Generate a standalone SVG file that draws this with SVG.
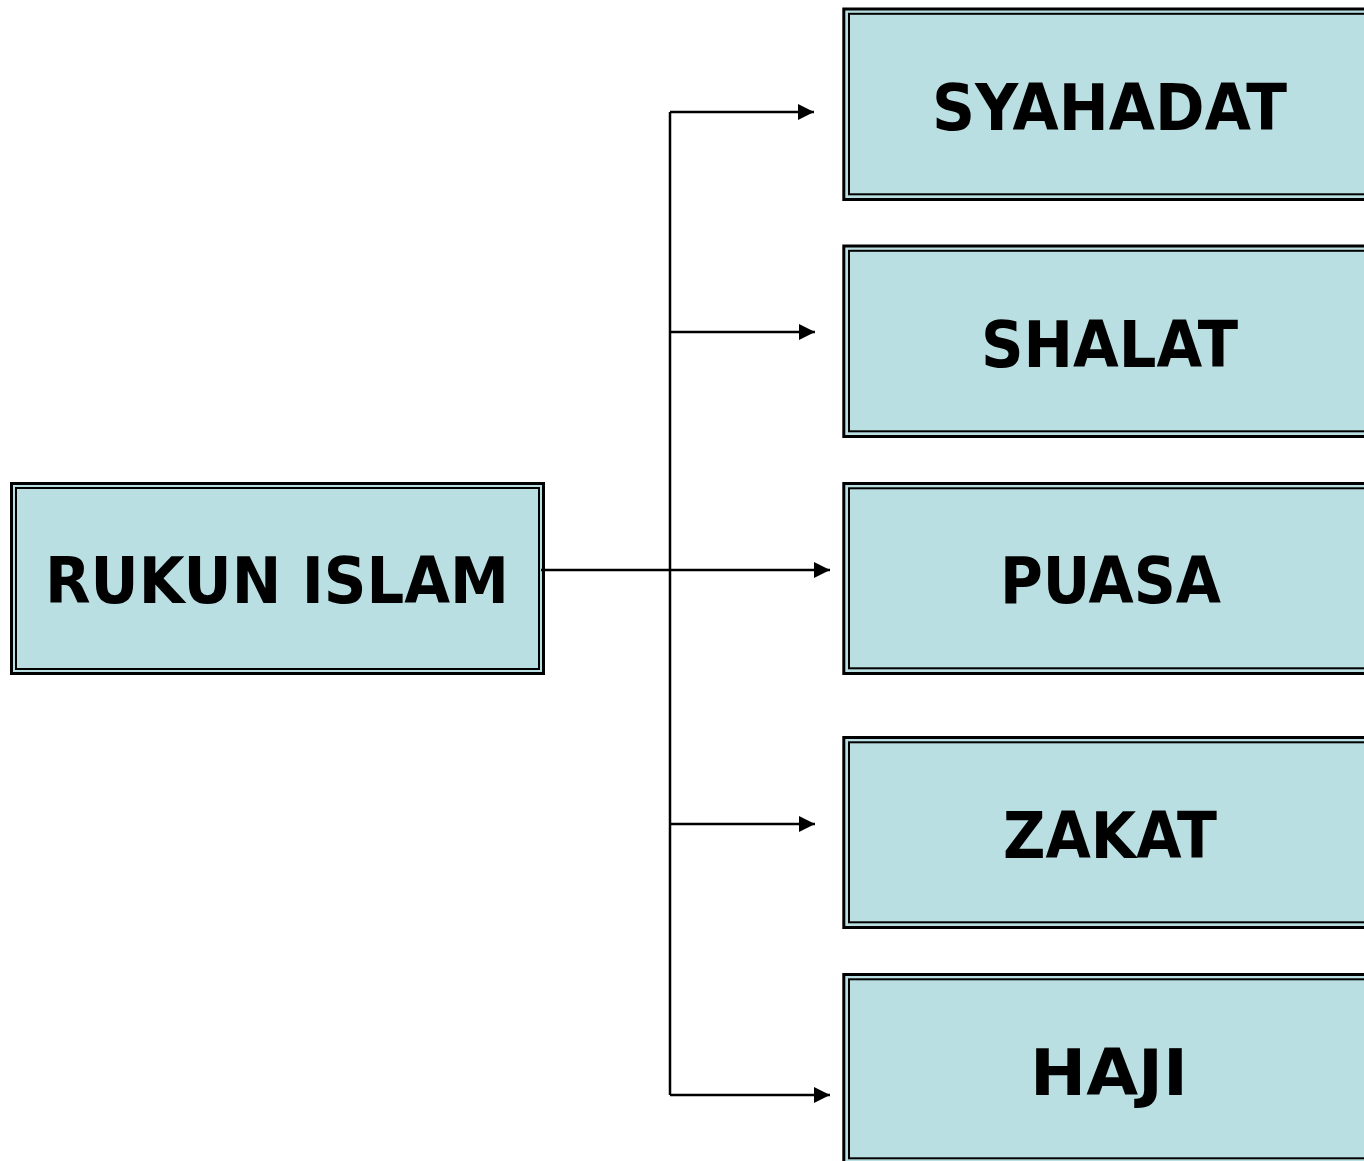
<svg xmlns="http://www.w3.org/2000/svg" width="1364" height="1161" viewBox="0 0 1364 1161">
<style>
.outer{fill:#B9DFE2;stroke:#000;stroke-width:3}
.inner{fill:none;stroke:#000;stroke-width:2}
.lbl{font-family:"DejaVu Sans","Liberation Sans",sans-serif;font-weight:bold;font-size:64px;fill:#000}
.conn{fill:none;stroke:#000;stroke-width:2.5}
</style>
<defs>
<marker id="ah" markerUnits="userSpaceOnUse" markerWidth="17" markerHeight="17" refX="16" refY="8" orient="auto">
<path d="M0,0 L16,8 L0,16 Z" fill="#000"/>
</marker>
</defs>
<rect width="1364" height="1161" fill="#fff"/>
<g id="rukun-islam">
<rect class="outer" x="11.5" y="483.5" width="532" height="190"/>
<rect class="inner" x="16" y="488" width="523" height="181"/>
<text class="lbl" x="45" y="603" textLength="464" lengthAdjust="spacingAndGlyphs">RUKUN ISLAM</text>
</g>
<g id="syahadat">
<rect class="outer" x="843.8" y="9" width="540" height="190.5"/>
<rect class="inner" x="849" y="13.8" width="530" height="180.5"/>
<text class="lbl" x="932" y="130" textLength="355" lengthAdjust="spacingAndGlyphs">SYAHADAT</text>
</g>
<g id="shalat">
<rect class="outer" x="843.8" y="246" width="540" height="190.5"/>
<rect class="inner" x="849" y="250.8" width="530" height="180.5"/>
<text class="lbl" x="981" y="367" textLength="257" lengthAdjust="spacingAndGlyphs">SHALAT</text>
</g>
<g id="puasa">
<rect class="outer" x="843.8" y="483.5" width="540" height="190"/>
<rect class="inner" x="849" y="488.3" width="530" height="180"/>
<text class="lbl" x="1000" y="603" textLength="221" lengthAdjust="spacingAndGlyphs">PUASA</text>
</g>
<g id="zakat">
<rect class="outer" x="843.8" y="737.5" width="540" height="190"/>
<rect class="inner" x="849" y="742.3" width="530" height="180"/>
<text class="lbl" x="1003" y="858" textLength="214" lengthAdjust="spacingAndGlyphs">ZAKAT</text>
</g>
<g id="haji">
<rect class="outer" x="843.8" y="974.5" width="540" height="190"/>
<rect class="inner" x="849" y="979.3" width="530" height="179"/>
<text class="lbl" x="1030" y="1095" textLength="158" lengthAdjust="spacingAndGlyphs">HAJI</text>
</g>
<g id="connectors">
<line class="conn" x1="670" y1="112" x2="670" y2="1095"/>
<line class="conn" x1="670" y1="112" x2="814" y2="112" marker-end="url(#ah)"/>
<line class="conn" x1="670" y1="332" x2="815" y2="332" marker-end="url(#ah)"/>
<line class="conn" x1="541" y1="570" x2="830" y2="570" marker-end="url(#ah)"/>
<line class="conn" x1="670" y1="824" x2="815" y2="824" marker-end="url(#ah)"/>
<line class="conn" x1="670" y1="1095" x2="830" y2="1095" marker-end="url(#ah)"/>
</g>
</svg>
